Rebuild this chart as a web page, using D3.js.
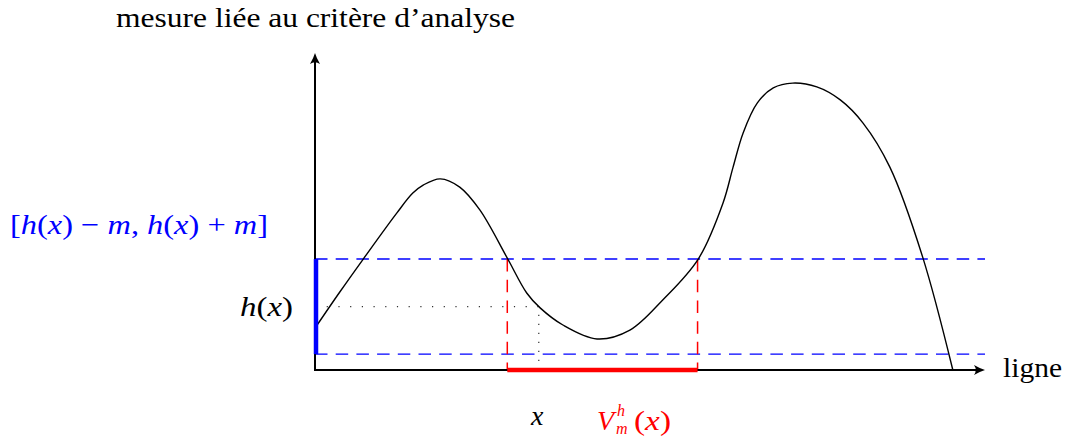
<!DOCTYPE html>
<html>
<head>
<meta charset="utf-8">
<script src="https://cdn.jsdelivr.net/npm/d3@7/dist/d3.min.js"></script>
<style>
  html, body { margin: 0; padding: 0; background: #fff; }
  svg { display: block; }
  text { font-family: "Liberation Serif", "DejaVu Serif", serif; }
</style>
</head>
<body>
<svg id="chart" width="1074" height="438"></svg>
<script>
// ---- data (abstract units: x 0..100 along "ligne", y 0..100 along the measure) ----
const curveX = [0, 3.7, 7.2, 12.2, 14.6, 16.2, 18.7, 21.6, 24.6, 28.7, 31.6, 33.6, 37.0, 42.1, 47.0, 51.9, 57.2, 60.9, 62.4, 63.9, 66.0, 68.4, 71.3, 74.9, 78.4, 81.8, 85.8, 90.7, 95.2];
const curveY = [13.2, 24.6, 35.0, 49.5, 55.8, 58.4, 60.3, 57.7, 50.5, 35.3, 24.3, 19.6, 14.2, 9.8, 12.6, 22.1, 35.0, 52.7, 64.0, 74.8, 84.2, 89.0, 90.5, 89.3, 85.2, 77.9, 64.0, 35.6, 0];
const hValue = 20;         // h(x)
const mValue = 15;         // margin m
const xValue = 33.4;       // the point x
const vInterval = [28.7, 57.1]; // V_m^h(x)
const axisMax = [100, 100];
const labels = {
  yTitle: "mesure liée au critère d’analyse",
  xTitle: "ligne"
};

// ---- layout ----
const svg = d3.select("#chart");
const xs = d3.scaleLinear().domain([0, axisMax[0]]).range([315, 985]);
const ys = d3.scaleLinear().domain([0, axisMax[1]]).range([370, 53]);
const blue = "#0000ff", red = "#ff0000";

const pts = curveX.map((x, i) => [x, curveY[i]]);

// blue dashed band lines
[hValue + mValue, hValue - mValue].forEach(v => {
  svg.append("line")
    .attr("x1", xs(0)).attr("x2", xs(axisMax[0]))
    .attr("y1", ys(v)).attr("y2", ys(v))
    .attr("stroke", blue).attr("stroke-width", 1.4)
    .attr("stroke-dasharray", "12.5,8.2");
});

// red dashed verticals
vInterval.forEach(v => {
  svg.append("line")
    .attr("x1", xs(v)).attr("x2", xs(v))
    .attr("y1", ys(hValue + mValue)).attr("y2", ys(0))
    .attr("stroke", red).attr("stroke-width", 1.5)
    .attr("stroke-dasharray", "12.5,8.2");
});

// dotted guides
svg.append("line")
  .attr("x1", xs(0)).attr("x2", xs(xValue))
  .attr("y1", ys(hValue)).attr("y2", ys(hValue))
  .attr("stroke", "#333").attr("stroke-width", 1.2)
  .attr("stroke-dasharray", "1.2,10.5");
svg.append("line")
  .attr("x1", xs(xValue)).attr("x2", xs(xValue))
  .attr("y1", ys(0)).attr("y2", ys(hValue))
  .attr("stroke", "#333").attr("stroke-width", 1.2)
  .attr("stroke-dasharray", "1.2,7.8");

// the curve
svg.append("path")
  .datum(pts)
  .attr("fill", "none").attr("stroke", "#000").attr("stroke-width", 1.4)
  .attr("d", d3.line().x(d => xs(d[0])).y(d => ys(d[1])).curve(d3.curveCatmullRom.alpha(0.5)));

// axes
svg.append("line").attr("x1", xs(0)).attr("x2", xs(axisMax[0]) - 3)
  .attr("y1", ys(0)).attr("y2", ys(0)).attr("stroke", "#000").attr("stroke-width", 2);
svg.append("line").attr("x1", xs(0)).attr("x2", xs(0))
  .attr("y1", ys(0) + 1).attr("y2", ys(axisMax[1]) + 3).attr("stroke", "#000").attr("stroke-width", 2);

// arrow heads
function arrow(tx, ty, angle) {
  const p = d3.path();
  p.moveTo(0, 0);
  p.quadraticCurveTo(-5, -1.5, -11, -5);
  p.quadraticCurveTo(-7.5, 0, -11, 5);
  p.quadraticCurveTo(-5, 1.5, 0, 0);
  p.closePath();
  svg.append("path").attr("d", p.toString())
    .attr("transform", `translate(${tx},${ty}) rotate(${angle})`)
    .attr("fill", "#000");
}
arrow(xs(axisMax[0]), ys(0), 0);
arrow(xs(0), ys(axisMax[1]), -90);

// thick blue bar on the y axis
svg.append("line").attr("x1", xs(0) + 1).attr("x2", xs(0) + 1)
  .attr("y1", ys(hValue + mValue)).attr("y2", ys(hValue - mValue))
  .attr("stroke", blue).attr("stroke-width", 4.5);

// thick red bar on the x axis
svg.append("line").attr("x1", xs(vInterval[0])).attr("x2", xs(vInterval[1]))
  .attr("y1", ys(0)).attr("y2", ys(0))
  .attr("stroke", red).attr("stroke-width", 4.5);

// ---- texts ----
const fs = 28;
function fit(sel, w) {
  const n = sel.node();
  const cur = n.getComputedTextLength();
  if (Math.abs(cur - w) > 2) sel.attr("textLength", w).attr("lengthAdjust", "spacingAndGlyphs");
}
function mathText(x, y, parts, color, size, width) {
  const t = svg.append("text").attr("x", x).attr("y", y)
    .attr("fill", color).attr("font-size", size);
  parts.forEach(([s, it]) => {
    t.append("tspan").text(s).attr("font-style", it ? "italic" : "normal");
  });
  if (width) fit(t, width);
  return t;
}

// y title
const yt = svg.append("text").attr("x", 116).attr("y", 27).attr("font-size", fs).attr("fill", "#000").text(labels.yTitle);
fit(yt, 399);

// x title
const xt = svg.append("text").attr("x", 1003).attr("y", 377).attr("font-size", fs).attr("fill", "#000").text(labels.xTitle);
fit(xt, 59);

// h(x)
mathText(240, 316, [["h", 1], ["(", 0], ["x", 1], [")", 0]], "#000", fs, 53);

// interval label
mathText(10, 234, [["[", 0], ["h", 1], ["(", 0], ["x", 1], [")", 0], [" − ", 0], ["m", 1], [", ", 0],
  ["h", 1], ["(", 0], ["x", 1], [")", 0], [" + ", 0], ["m", 1], ["]", 0]], blue, fs, 258);

// x label
mathText(531, 425, [["x", 1]], "#000", fs, 14);

// V_m^h(x)
mathText(597, 430, [["V", 1]], red, fs, 19);
mathText(617, 416, [["h", 1]], red, 16);
mathText(616, 434, [["m", 1]], red, 16);
mathText(634, 430, [["(", 0], ["x", 1], [")", 0]], red, fs, 37);
</script>
</body>
</html>
